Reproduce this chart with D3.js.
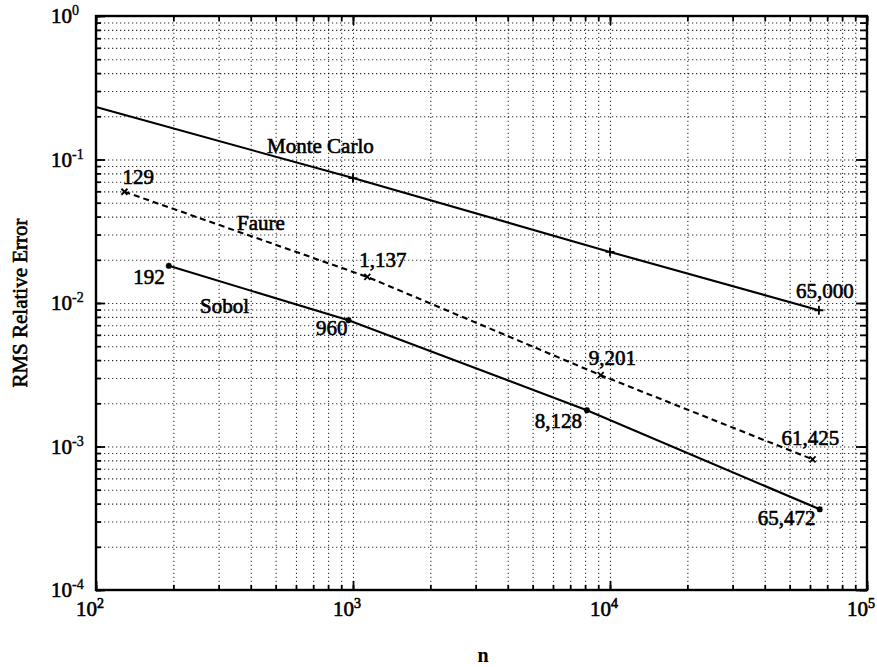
<!DOCTYPE html>
<html lang="en">
<head>
<meta charset="UTF-8">
<title>RMS Relative Error vs n</title>
<script src="https://d3js.org/d3.v7.min.js"></script>
<style>
    body { margin: 0; background: #fff; }
    text { font-family: "Liberation Serif", "DejaVu Serif", serif; fill: #000; }
    .grid line { stroke: #000; stroke-width: 1.1; stroke-dasharray: 1.3,2.7; opacity: 0.8; }
    .grid path { display: none; }
    .ticks path { display: none; }
    .ticks line { stroke: #000; stroke-width: 1.8; }
    .series { fill: none; stroke: #000; stroke-width: 2.1; }
    .lbl { font-size: 21px; stroke: #000; stroke-width: 0.6; }
</style>
</head>
<body>
<script>
// sample sizes and errors
const mcN = [100, 1000, 10000, 65000];
const mcErr = [0.232, 0.0742, 0.0227, 0.0089];

const faureN = [129, 1137, 9201, 61425];
const faureErr = [0.0596, 0.0152, 0.00314, 0.000814];

const sobolN = [192, 960, 8128, 65472];
const sobolErr = [0.01815, 0.00759, 0.00179, 0.000365];

const xMajors = [1e2, 1e3, 1e4, 1e5];
const xExp = ["2", "3", "4", "5"];
const yMajors = [1e-4, 1e-3, 1e-2, 1e-1, 1];
const yExp = ["-4", "-3", "-2", "-1", "0"];

// point labels: [text, n, err, dx, dy, anchor]
const pointLabels = [
    ["129", 129, 0.0596, -2, -8, "start"],
    ["1,137", 1137, 0.0152, -8, -10, "start"],
    ["9,201", 9201, 0.00314, -12, -10, "start"],
    ["61,425", 61425, 0.000814, -31, -14, "start"],
    ["192", 192, 0.01815, -4, 18, "end"],
    ["960", 960, 0.00759, -1, 15, "end"],
    ["8,128", 8128, 0.00179, -52, 18, "start"],
    ["65,472", 65472, 0.000365, -62, 16, "start"],
    ["65,000", 65000, 0.0089, -23, -12, "start"]
];
const seriesNames = [
    ["Monte Carlo", 267, 153],
    ["Faure", 237, 230],
    ["Sobol", 200, 313]
];

const width = 877, height = 667;
const margin = {left: 96, top: 16, right: 10, bottom: 77};
const innerW = width - margin.left - margin.right;
const innerH = height - margin.top - margin.bottom;

const svg = d3.select("body").append("svg")
    .attr("width", width)
    .attr("height", height);

const g = svg.append("g")
    .attr("transform", `translate(${margin.left},${margin.top})`);

const x = d3.scaleLog().domain([1e2, 1e5]).range([0, innerW]);
const y = d3.scaleLog().domain([1e-4, 1]).range([innerH, 0]);

// dotted grid on every decade and sub-decade
g.append("g").attr("class", "grid")
    .attr("transform", `translate(0,${innerH})`)
    .call(d3.axisBottom(x).tickValues(x.ticks()).tickSize(-innerH).tickFormat(""));
g.append("g").attr("class", "grid")
    .call(d3.axisLeft(y).tickValues(y.ticks()).tickSize(-innerW).tickFormat(""));

// inward ticks on all four sides
function tickSet(axisFn, scale, vals, size, tr) {
    g.append("g").attr("class", "ticks")
        .attr("transform", tr)
        .call(axisFn(scale).tickValues(vals).tickSize(size).tickFormat(""));
}
const minorX = x.ticks(), minorY = y.ticks();
tickSet(d3.axisBottom, x, minorX, -5, `translate(0,${innerH})`);
tickSet(d3.axisBottom, x, xMajors, -9, `translate(0,${innerH})`);
tickSet(d3.axisTop, x, minorX, -5, "translate(0,0)");
tickSet(d3.axisTop, x, xMajors, -9, "translate(0,0)");
tickSet(d3.axisLeft, y, minorY, -5, "translate(0,0)");
tickSet(d3.axisLeft, y, yMajors, -9, "translate(0,0)");
tickSet(d3.axisRight, y, minorY, -7, `translate(${innerW},0)`);
tickSet(d3.axisRight, y, yMajors, -11, `translate(${innerW},0)`);

// frame
g.append("rect")
    .attr("width", innerW).attr("height", innerH)
    .attr("fill", "none").attr("stroke", "#000").attr("stroke-width", 2.4);

// tick labels with superscripts
const xl = g.append("g").selectAll("text").data(xMajors).enter().append("text")
    .attr("x", d => x(d) - 6)
    .attr("y", innerH + 26)
    .attr("text-anchor", "middle")
    .style("font-size", "21px")
    .style("stroke", "#000").style("stroke-width", 0.6);
xl.append("tspan").text("10");
xl.append("tspan").attr("dy", -8).style("font-size", "14px").text((d, i) => xExp[i]);

g.append("g").selectAll("text").data(yMajors).enter().append("text")
    .attr("x", -24)
    .attr("y", d => y(d) + 7)
    .attr("text-anchor", "end")
    .style("font-size", "21px")
    .style("stroke", "#000").style("stroke-width", 0.6)
    .text("10");
g.append("g").selectAll("text").data(yMajors).enter().append("text")
    .attr("x", -24)
    .attr("y", d => y(d) - 1)
    .attr("text-anchor", "start")
    .style("font-size", "14px")
    .style("stroke", "#000").style("stroke-width", 0.4)
    .text((d, i) => yExp[i]);

// axis titles
svg.append("text")
    .attr("x", 483).attr("y", 662)
    .attr("text-anchor", "middle")
    .style("font-size", "20px").style("font-weight", "bold")
    .text("n");
svg.append("text")
    .attr("transform", `translate(27,${margin.top + innerH / 2}) rotate(-90)`)
    .attr("text-anchor", "middle")
    .style("font-size", "21px")
    .style("stroke", "#000").style("stroke-width", 0.6)
    .text("RMS Relative Error");

// series lines
const line = d3.line().x(d => x(d[0])).y(d => y(d[1]));
g.append("path").attr("class", "series")
    .attr("d", line(d3.zip(mcN, mcErr)));
g.append("path").attr("class", "series")
    .attr("stroke-dasharray", "6,4").attr("stroke-width", 1.6)
    .attr("d", line(d3.zip(faureN, faureErr)));
g.append("path").attr("class", "series")
    .attr("d", line(d3.zip(sobolN, sobolErr)));

// markers: + for Monte Carlo, x for Faure, * for Sobol
function marker(kind, s) {
    const p = d3.path();
    if (kind !== "x") {
        p.moveTo(-s, 0); p.lineTo(s, 0);
        p.moveTo(0, -s); p.lineTo(0, s);
    }
    if (kind !== "+") {
        const k = kind === "*" ? s * 0.75 : s;
        p.moveTo(-k, -k); p.lineTo(k, k);
        p.moveTo(-k, k); p.lineTo(k, -k);
    }
    return p.toString();
}
function drawMarkers(ns, errs, kind, s) {
    g.append("g").selectAll("path").data(d3.zip(ns, errs)).enter().append("path")
        .attr("transform", d => `translate(${x(d[0])},${y(d[1])})`)
        .attr("d", marker(kind, s))
        .attr("stroke", "#000").attr("stroke-width", 1.8).attr("fill", "none");
}
drawMarkers(mcN.slice(1), mcErr.slice(1), "+", 4.5);
drawMarkers(faureN, faureErr, "x", 3);
drawMarkers(sobolN, sobolErr, "*", 3);

// point labels
g.append("g").selectAll("text").data(pointLabels).enter().append("text")
    .attr("class", "lbl")
    .attr("x", d => x(d[1]) + d[3])
    .attr("y", d => y(d[2]) + d[4])
    .attr("text-anchor", d => d[5])
    .text(d => d[0]);

// series names (page coordinates)
svg.append("g").selectAll("text").data(seriesNames).enter().append("text")
    .attr("class", "lbl")
    .attr("x", d => d[1])
    .attr("y", d => d[2])
    .text(d => d[0]);
</script>
</body>
</html>
